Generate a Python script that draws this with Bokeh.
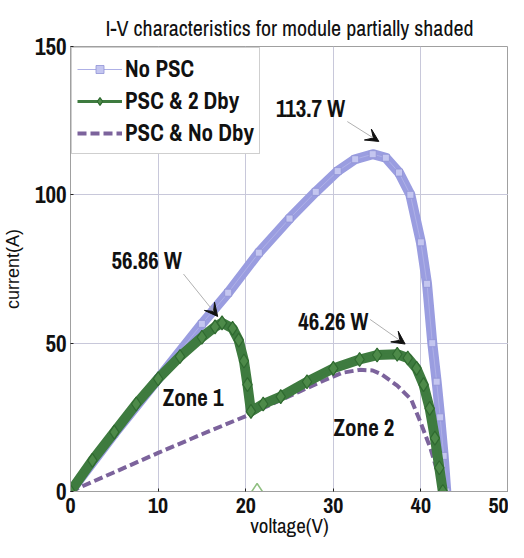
from bokeh.plotting import figure
from bokeh.models import (ColumnDataSource, Legend, LegendItem, Arrow, VeeHead,
                          FixedTicker, Range1d)
from bokeh.embed import file_html
from bokeh.resources import INLINE
from bokeh.core.properties import value

# ---- data ----
v_nopsc = [0, 5, 10, 15, 18, 21.5, 25, 28, 30.5, 32.5, 34.5, 36, 37.5, 38.8, 40, 40.7, 41.3, 41.8, 42.2, 42.6, 42.9]
p_nopsc = [0, 19.5, 38, 56.5, 67, 80.5, 92, 101, 108, 112, 113.7, 112.5, 107.5, 100, 84, 70, 50, 37, 25, 12, 0]

v_2dby = [0, 2.5, 5, 7.5, 10, 12.5, 15, 16.5, 17.3, 18.5, 19.2, 19.8, 20.2, 20.6,
          22, 24, 27, 30, 33, 35, 37.3, 38.5, 39.5, 40.3, 41, 41.6, 42.1, 42.5]
p_2dby = [0, 10.5, 20, 29.5, 38, 45.5, 52, 55.5, 56.86, 55, 51, 44, 36, 27,
          29.5, 32, 37, 41.5, 44.5, 46, 46.26, 45, 41.5, 36, 28, 18, 8, 0]

v_nodby = [0, 5, 10, 15, 20.5, 23, 26, 29, 31, 33, 34.5, 35.5, 37.3, 38.9, 40, 41.1, 42.2, 42.5]
p_nodby = [0, 6.5, 13, 19.3, 26, 29.5, 33.5, 37.5, 40, 41, 40.8, 39.5, 35.7, 31, 23, 14.5, 3.5, 0]

stray_v = [21.3]
stray_p = [0]

x_ticks = [0, 10, 20, 30, 40, 50]
y_ticks = [0, 50, 100, 150]

ann_text = ["113.7 W", "56.86 W", "46.26 W", "Zone 1", "Zone 2"]
ann_x = [27.4, 8.7, 30.0, 14.0, 33.5]
ann_y = [129.0, 78.0, 57.3, 31.7, 21.5]

arrow_x0 = [31.6, 12.9, 34.2]
arrow_y0 = [124.7, 73.3, 58.0]
arrow_x1 = [35.2, 16.8, 38.2]
arrow_y1 = [118.0, 59.0, 49.7]

x_label = "voltage(V)"
y_label = "current(A)"

NARROW = "Archivo Narrow"
REG = "Liberation Sans"

LAV = "#9a9de0"
GREEN = "#3e7b3f"
PURPLE = "#7c639c"

p = figure(width=508, height=542, output_backend="svg", toolbar_location=None,
           x_range=Range1d(0, 50), y_range=Range1d(0, 150),
           min_border_left=64, min_border_right=0, min_border_top=46, min_border_bottom=40)

p.title.text = "I-V characteristics for module partially shaded"
p.title.align = "center"
p.title.text_font = NARROW
p.title.text_font_style = "normal"
p.title.text_font_size = "22px"
p.title.text_color = "#111111"
p.title.standoff = 8

for ax in (p.xaxis[0], p.yaxis[0]):
    ax.major_label_text_font = NARROW
    ax.major_label_text_font_style = "bold"
    ax.major_label_text_color = "#111111"
    ax.major_tick_in = 3
    ax.major_tick_out = 0
    ax.minor_tick_in = 0
    ax.minor_tick_out = 0
    ax.major_tick_line_color = "#222222"
    ax.axis_line_color = "#a0a0a0"
    ax.axis_label_text_font_style = "normal"
    ax.axis_label_text_color = "#111111"

p.yaxis.major_label_text_font_size = "23px"
p.xaxis.major_label_text_font_size = "22px"
p.xaxis.ticker = FixedTicker(ticks=x_ticks)
p.yaxis.ticker = FixedTicker(ticks=y_ticks)

p.xaxis.axis_label = x_label
p.xaxis.axis_label_text_font = NARROW
p.xaxis.axis_label_text_font_size = "21px"
p.xaxis.major_label_standoff = 6
p.xaxis.axis_label_standoff = -5

p.yaxis.axis_label = y_label
p.yaxis.axis_label_text_font = REG
p.yaxis.axis_label_text_font_size = "18px"
p.yaxis.axis_label_standoff = 9
p.yaxis.major_label_standoff = 4

p.xgrid.grid_line_color = "#c8c8da"
p.ygrid.grid_line_color = "#c8c8da"
p.outline_line_color = "#a0a0a0"
p.background_fill_color = "white"
p.border_fill_color = "white"

# curves
p.line(v_nopsc, p_nopsc, line_color=LAV, line_width=10, line_join="round", line_cap="round")
lav_thin = p.line(v_nopsc, p_nopsc, line_color="#aeb0e6", line_width=1)
lav_sq = p.scatter(v_nopsc, p_nopsc, marker="square", size=7, fill_color="#c4c6f0", line_color="#9093d6", line_width=0.8)
dash = p.line(v_nodby, p_nodby, line_color=PURPLE, line_width=4, line_dash="9 4")
p.line(v_2dby, p_2dby, line_color=GREEN, line_width=10, line_join="round", line_cap="round")
gr_thin = p.line(v_2dby, p_2dby, line_color=GREEN, line_width=3)
gr_dia = p.scatter(v_2dby, p_2dby, marker="diamond", size=14, fill_color="#4d8a49", line_color="#2f6a30", line_width=1.2)
p.scatter(stray_v, stray_p, marker="diamond", size=16, fill_color="white", line_color="#8fbf80", line_width=1.5)

legend = Legend(items=[
    LegendItem(label="No PSC", renderers=[lav_thin, lav_sq]),
    LegendItem(label="PSC & 2 Dby", renderers=[gr_thin, gr_dia]),
    LegendItem(label="PSC & No Dby", renderers=[dash]),
], location="top_left")
legend.label_text_font = NARROW
legend.label_text_font_style = "bold"
legend.label_text_font_size = "23px"
legend.label_text_color = "#111111"
legend.glyph_width = 45
legend.glyph_height = 20
legend.label_height = 20
legend.label_standoff = 3
legend.spacing = 1
legend.padding = 5
legend.margin = 1
legend.border_line_color = "#a0a0a0"
legend.background_fill_alpha = 1
p.add_layout(legend)

# annotations
src = ColumnDataSource(dict(x=ann_x, y=ann_y, t=ann_text))
p.text(x="x", y="y", text="t", source=src, text_font=value(NARROW), text_font_style="bold",
       text_font_size="23px", text_align="center", text_baseline="middle", text_color="#111111")

for x0, y0, x1, y1 in zip(arrow_x0, arrow_y0, arrow_x1, arrow_y1):
    p.add_layout(Arrow(x_start=x0, y_start=y0, x_end=x1, y_end=y1,
                       line_color="#b0b0b0", line_width=1,
                       end=VeeHead(size=13, fill_color="#111111", line_color="#111111")))

open("out.html", "w").write(file_html(p, INLINE))
